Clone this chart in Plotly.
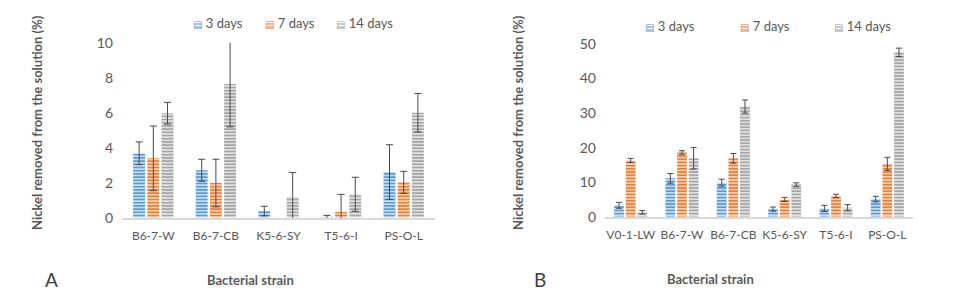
import plotly.graph_objects as go

# page body adds an 8px margin, so the figure is drawn 8px in from the window edge
OFF = 8
W, H = 955 - OFF, 301 - OFF

series = ["3 days", "7 days", "14 days"]
colors = ["#5B9BD5", "#ED7D31", "#A5A5A5"]

# Panel A (no 7-day bar is drawn for K5-6-SY)
cats_a = ["B6-7-W", "B6-7-CB", "K5-6-SY", "T5-6-I", "PS-O-L"]
vals_a = {
    "3 days": [3.68, 2.71, 0.38, 0.03, 2.61],
    "7 days": [3.39, 1.98, None, 0.33, 2.02],
    "14 days": [5.97, 7.64, 1.18, 1.34, 6.0],
}
err_a = {
    "3 days": [0.65, 0.63, 0.27, 0.1, 1.56],
    "7 days": [1.85, 1.36, None, 1.0, 0.63],
    "14 days": [0.62, 2.45, 1.4, 0.97, 1.1],
}
yticks_a = [0, 2, 4, 6, 8, 10]

# Panel B
cats_b = ["V0-1-LW", "B6-7-W", "B6-7-CB", "K5-6-SY", "T5-6-I", "PS-O-L"]
vals_b = {
    "3 days": [3.3, 11.1, 9.85, 2.2, 2.4, 5.1],
    "7 days": [16.3, 18.6, 16.9, 5.0, 6.0, 15.3],
    "14 days": [1.27, 16.9, 31.9, 9.3, 2.6, 47.6],
}
err_b = {
    "3 days": [0.85, 1.4, 1.0, 0.6, 0.9, 0.8],
    "7 days": [0.6, 0.5, 1.4, 0.6, 0.5, 1.9],
    "14 days": [0.5, 3.1, 1.9, 0.5, 0.9, 1.2],
}
yticks_b = [0, 10, 20, 30, 40, 50]

FONT = "Lato"
TXT = "#595959"
ERR = "#4a4a4a"


def px_x(p):
    return (p - OFF) / W


def px_y(p):
    return 1 - (p - OFF) / H


fig = go.Figure()

for s, c in zip(series, colors):
    pat = dict(shape="-", fgcolor="white", bgcolor=c, size=3.2, solidity=0.33, fillmode="replace")
    fig.add_trace(go.Bar(
        x=cats_a, y=vals_a[s], name=s, xaxis="x", yaxis="y", showlegend=False,
        marker=dict(color=c, pattern=pat, line=dict(width=0)),
        error_y=dict(type="data", array=err_a[s], color=ERR, thickness=1, width=3.5),
        cliponaxis=False,
    ))
for s, c in zip(series, colors):
    pat = dict(shape="-", fgcolor="white", bgcolor=c, size=3.2, solidity=0.33, fillmode="replace")
    fig.add_trace(go.Bar(
        x=cats_b, y=vals_b[s], name=s, xaxis="x2", yaxis="y2", showlegend=False,
        marker=dict(color=c, pattern=pat, line=dict(width=0)),
        error_y=dict(type="data", array=err_b[s], color=ERR, thickness=1, width=3),
        cliponaxis=False,
    ))

axis_common_x = dict(
    showgrid=False, zeroline=False, showline=True, linecolor="#D9D9D9", linewidth=1.5,
    ticks="", tickfont=dict(family=FONT, size=12, color=TXT), ticklabelstandoff=6,
    fixedrange=True, automargin=False, tickangle=0,
)
axis_common_y = dict(
    showgrid=False, zeroline=False, showline=False, ticks="",
    tickfont=dict(family=FONT, size=14, color=TXT), ticklabelstandoff=8,
    fixedrange=True, automargin=False,
)

fig.update_layout(
    width=W, height=H,
    margin=dict(l=0, r=0, t=0, b=0, autoexpand=False),
    paper_bgcolor="white", plot_bgcolor="white",
    barmode="group", bargap=0.32, bargroupgap=0.16,
    xaxis=dict(domain=[px_x(122), px_x(435)], anchor="y", **axis_common_x),
    yaxis=dict(domain=[px_y(217.7), px_y(42.7)], anchor="x", range=[0, 10],
               tickvals=yticks_a, **axis_common_y),
    xaxis2=dict(domain=[px_x(605), px_x(913)], anchor="y2", **axis_common_x),
    yaxis2=dict(domain=[px_y(216.7), px_y(44)], anchor="x2", range=[0, 50],
                tickvals=yticks_b, **axis_common_y),
    showlegend=False,
)

# legend entries (striped square glyph + text), one row per panel
legend_a_x = [218, 290, 364]
legend_b_x = [670, 765, 862]


def add_legend(xs, ypix):
    for s, c, xp in zip(series, colors, xs):
        fig.add_annotation(
            xref="paper", yref="paper", showarrow=False, xanchor="center", yanchor="middle",
            x=px_x(xp), y=px_y(ypix),
            text=f"<span style='color:{c};font-family:DejaVu Sans;font-size:10px'>▤</span> {s}",
            font=dict(family=FONT, size=13, color=TXT),
        )


add_legend(legend_a_x, 23)
add_legend(legend_b_x, 26)

ytitle = "Nickel removed from the solution (%)"
annots = [
    dict(text="<b>" + ytitle + "</b>", x=px_x(37), y=px_y(123), textangle=-90,
         font=dict(family=FONT, size=13, color=TXT)),
    dict(text="<b>" + ytitle + "</b>", x=px_x(518), y=px_y(123), textangle=-90,
         font=dict(family=FONT, size=13, color=TXT)),
    dict(text="A", x=px_x(51), y=px_y(279), font=dict(family=FONT, size=19, color="#404040")),
    dict(text="B", x=px_x(540), y=px_y(279), font=dict(family=FONT, size=19, color="#404040")),
    dict(text="<b>Bacterial strain</b>", x=px_x(250), y=px_y(280),
         font=dict(family=FONT, size=13, color=TXT)),
    dict(text="<b>Bacterial strain</b>", x=px_x(710), y=px_y(279),
         font=dict(family=FONT, size=13, color=TXT)),
]
for a in annots:
    fig.add_annotation(xref="paper", yref="paper", showarrow=False,
                       xanchor="center", yanchor="middle", **a)

fig.write_html("out.html")
